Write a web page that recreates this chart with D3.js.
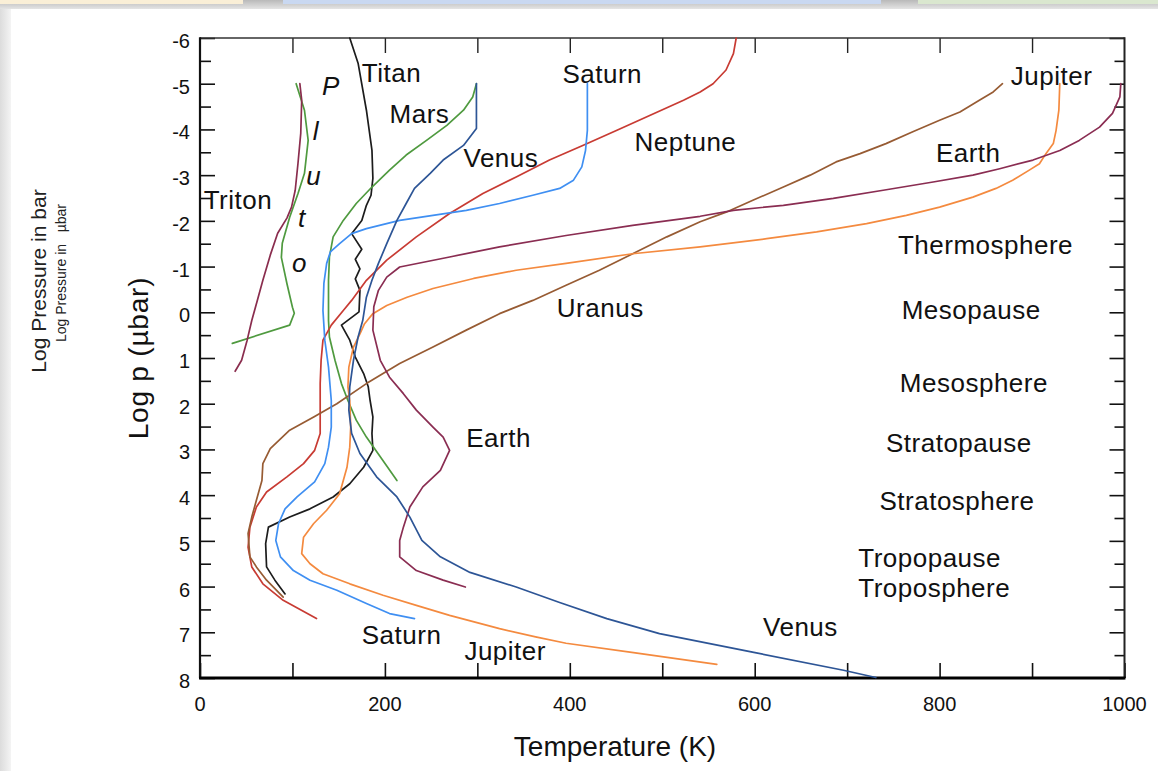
<!DOCTYPE html>
<html>
<head>
<meta charset="utf-8">
<script src="https://cdn.jsdelivr.net/npm/d3@7"></script>
<style>
  html, body { margin: 0; padding: 0; background: #fff; }
  svg { display: block; font-family: "Liberation Sans", Arial, Helvetica, sans-serif; }
</style>
</head>
<body>
<svg id="chart" width="1158" height="771"></svg>
<script>
// Temperature (K) vs log pressure (µbar) profiles: [T, log p]
const titan = [[162,-6.0],[171,-5.45],[180,-4.42],[186,-3.54],[187,-2.93],[185,-2.56],[180,-2.34],[175,-2.01],[164,-1.72],[175,-1.38],[168,-1.16],[173,-0.95],[168,-0.73],[173,-0.48],[172,-0.01],[153,0.28],[162,0.61],[168,0.98],[177,1.34],[182,1.63],[184,1.93],[187,2.29],[186,2.65],[187,3.02],[177,3.39],[162,3.75],[144,4.04],[119,4.30],[97,4.48],[74,4.70],[71,5.06],[72,5.57],[81,5.86],[92,6.16]];
const pluto = [[104,-5.0],[113,-4.42],[117,-3.76],[113,-3.04],[106,-2.60],[97,-2.08],[89,-1.51],[88,-1.20],[94,-0.63],[100,-0.11],[102,0.02],[97,0.28],[35,0.68]];
const triton = [[108,-5.0],[110,-4.64],[109,-3.92],[106,-3.26],[103,-2.67],[99,-2.30],[94,-2.06],[84,-1.73],[76,-1.25],[68,-0.70],[62,-0.26],[56,0.18],[51,0.61],[45,1.05],[38,1.29]];
const mars = [[299,-5.0],[295,-4.71],[285,-4.42],[267,-4.09],[245,-3.76],[223,-3.44],[205,-3.11],[186,-2.74],[169,-2.38],[155,-2.01],[144,-1.65],[140,-1.21],[139,-0.70],[139,-0.04],[139,0.18],[140,0.54],[146,1.05],[153,1.56],[160,1.93],[169,2.36],[180,2.73],[195,3.16],[213,3.68]];
const venus = [[299,-5.0],[299,-4.02],[285,-3.65],[263,-3.33],[249,-3.04],[232,-2.71],[223,-2.38],[213,-2.01],[202,-1.50],[193,-1.07],[186,-0.70],[180,-0.33],[176,0.18],[171,0.54],[166,1.05],[162,1.63],[161,2.14],[164,2.65],[173,3.09],[191,3.60],[213,4.04],[227,4.48],[240,4.99],[260,5.35],[292,5.69],[342,6.01],[389,6.35],[440,6.70],[497,7.03],[599,7.44],[696,7.83],[731,7.99]];
const saturn = [[419,-5.0],[419,-3.98],[417,-3.54],[413,-3.18],[404,-2.89],[389,-2.71],[360,-2.56],[324,-2.38],[288,-2.23],[252,-2.12],[216,-2.01],[180,-1.83],[164,-1.72],[151,-1.50],[141,-1.32],[137,-1.07],[134,-0.63],[133,-0.04],[135,0.61],[139,1.20],[142,1.93],[142,2.51],[139,2.95],[135,3.31],[124,3.71],[105,4.04],[92,4.30],[85,4.62],[82,4.99],[87,5.35],[101,5.65],[119,5.86],[148,6.08],[180,6.37],[205,6.59],[232,6.70]];
const jupiter = [[930,-5.0],[929,-4.42],[926,-3.98],[923,-3.69],[915,-3.47],[908,-3.25],[897,-3.11],[879,-2.89],[861,-2.71],[836,-2.52],[800,-2.30],[764,-2.12],[721,-1.94],[667,-1.76],[613,-1.61],[541,-1.43],[468,-1.28],[396,-1.07],[342,-0.92],[296,-0.74],[252,-0.52],[224,-0.33],[202,-0.15],[187,0.03],[178,0.25],[173,0.47],[166,0.76],[161,1.20],[160,1.63],[162,1.93],[163,2.51],[162,2.95],[159,3.39],[151,3.97],[137,4.33],[123,4.62],[112,4.92],[110,5.28],[119,5.50],[133,5.72],[162,5.94],[198,6.19],[234,6.41],[270,6.63],[324,6.92],[363,7.10],[396,7.24],[467,7.44],[559,7.70]];
const neptune = [[580,-6.0],[577,-5.66],[569,-5.30],[555,-5.0],[541,-4.82],[523,-4.64],[487,-4.31],[451,-3.98],[414,-3.65],[378,-3.33],[342,-2.96],[306,-2.60],[270,-2.16],[234,-1.65],[202,-1.14],[180,-0.70],[164,-0.26],[155,-0.04],[142,0.28],[133,0.61],[131,1.05],[130,1.56],[130,2.14],[130,2.65],[124,3.02],[112,3.31],[94,3.60],[72,3.93],[61,4.26],[54,4.70],[52,5.14],[56,5.57],[68,5.94],[90,6.30],[126,6.70]];
const uranus = [[868,-5.0],[858,-4.82],[843,-4.64],[822,-4.38],[800,-4.20],[771,-3.95],[742,-3.69],[714,-3.47],[688,-3.29],[660,-3.00],[631,-2.74],[598,-2.45],[569,-2.19],[541,-1.98],[505,-1.65],[468,-1.28],[432,-0.92],[396,-0.59],[360,-0.26],[324,0.03],[288,0.39],[252,0.76],[216,1.12],[180,1.56],[148,2.00],[123,2.29],[97,2.58],[76,2.98],[68,3.31],[67,3.68],[61,4.11],[56,4.48],[52,4.84],[54,5.35],[61,5.57],[72,5.86],[90,6.23]];
const earth = [[996,-5.0],[995,-4.71],[987,-4.35],[973,-4.05],[951,-3.76],[930,-3.54],[901,-3.33],[865,-3.14],[836,-3.00],[793,-2.85],[739,-2.67],[685,-2.49],[631,-2.34],[577,-2.23],[541,-2.10],[468,-1.90],[396,-1.68],[324,-1.43],[270,-1.21],[216,-0.99],[202,-0.77],[193,-0.48],[188,-0.12],[187,0.39],[195,1.05],[205,1.42],[220,1.78],[234,2.14],[252,2.51],[263,2.73],[270,3.02],[260,3.46],[241,3.82],[227,4.26],[220,4.70],[216,4.99],[216,5.35],[234,5.65],[263,5.86],[287,6.01]];

// Axis ticks
const xTicks = [0,100,200,300,400,500,600,700,800,900,1000];
const xTickLabels = ["0","200","400","600","800","1000"];
const yTickLabels = ["-6","-5","-4","-3","-2","-1","0","1","2","3","4","5","6","7","8"];

// Annotations: text with its anchor in data space [T, log p]
const planetLabels = [
  ["Titan",175,-5.03],["Mars",205,-4.13],["Venus",285,-3.18],["Saturn",392,-5.02],
  ["Neptune",470,-3.53],["Jupiter",877,-4.97],["Earth",796,-3.29],["Triton",4,-2.27],
  ["Uranus",386,0.10],["Earth",288,2.95],["Saturn",175,7.26],["Jupiter",286,7.61],["Venus",609,7.09]
];
const layerLabels = [
  ["Thermosphere",755,-1.28],["Mesopause",759,0.14],["Mesosphere",757,1.74],
  ["Stratopause",742,3.06],["Stratosphere",735,4.33],["Tropopause",712,5.57],["Troposphere",712,6.23]
];
const plutoLetters = [["P",132,-4.75],["l",122,-3.76],["u",115,-2.78],["t",106,-1.87],["o",99.5,-0.88]];

const series = [
  { data: titan,   color: "#1c1c1c" },
  { data: pluto,   color: "#4f9a3f" },
  { data: triton,  color: "#8a2d4e" },
  { data: mars,    color: "#4f9a3f" },
  { data: neptune, color: "#c83b33" },
  { data: uranus,  color: "#975b33" },
  { data: saturn,  color: "#3f8ff2" },
  { data: jupiter, color: "#f48a3f" },
  { data: earth,   color: "#8a2d52" },
  { data: venus,   color: "#2d5596" }
];

const svg = d3.select("#chart");

// page backdrop
const defs = svg.append("defs");
const gShade = defs.append("linearGradient").attr("id","leftShade").attr("x1",0).attr("x2",1).attr("y1",0).attr("y2",0);
gShade.append("stop").attr("offset",0).attr("stop-color","#dcdcdc");
gShade.append("stop").attr("offset",1).attr("stop-color","#f4f4f4");
const gTop = defs.append("linearGradient").attr("id","topShade").attr("x1",0).attr("x2",0).attr("y1",0).attr("y2",1);
gTop.append("stop").attr("offset",0).attr("stop-color","#b9b9b9");
gTop.append("stop").attr("offset",1).attr("stop-color","#e4e4e4");

svg.append("rect").attr("width",1158).attr("height",771).attr("fill","#ffffff");
svg.append("rect").attr("x",0).attr("y",0).attr("width",11).attr("height",771).attr("fill","url(#leftShade)");
svg.append("rect").attr("x",0).attr("y",0).attr("width",1158).attr("height",9).attr("fill","url(#topShade)");
svg.append("rect").attr("x",0).attr("y",0).attr("width",243).attr("height",4).attr("fill","#faefd7");
svg.append("rect").attr("x",283).attr("y",0).attr("width",598).attr("height",4).attr("fill","#c9d8f1");
svg.append("rect").attr("x",918).attr("y",0).attr("width",240).attr("height",4).attr("fill","#dae7cf");

const x = d3.scaleLinear().domain([0,1000]).range([200,1124.5]);
const y = d3.scaleLinear().domain([-6,8]).range([38,678]);

// ticks on all four sides, pointing inward
svg.append("g").attr("transform",`translate(0,${y(8)})`)
  .call(d3.axisBottom(x).tickValues(xTicks).tickSize(-15).tickFormat(""))
  .call(g => g.select(".domain").remove())
  .selectAll("line").attr("stroke","#111").attr("stroke-width",1.6);
svg.append("g").attr("transform",`translate(0,${y(-6)})`)
  .call(d3.axisTop(x).tickValues(xTicks.slice(1,-1)).tickSize(-15).tickFormat(""))
  .call(g => g.select(".domain").remove())
  .selectAll("line").attr("stroke","#222").attr("stroke-width",1.4);

const yHalf = d3.range(-6,8.01,0.5);
const isMajor = v => Math.abs(v - Math.round(v)) < 1e-6;
svg.append("g").attr("transform",`translate(${x(0)},0)`)
  .call(d3.axisLeft(y).tickValues(yHalf).tickSizeInner(0).tickSizeOuter(0).tickFormat(""))
  .call(g => g.select(".domain").remove())
  .selectAll(".tick line").attr("x2", d => isMajor(d) ? 15 : 11).attr("stroke","#111").attr("stroke-width",1.6);
svg.append("g").attr("transform",`translate(${x(1000)},0)`)
  .call(d3.axisRight(y).tickValues(yHalf).tickSizeInner(0).tickSizeOuter(0).tickFormat(""))
  .call(g => g.select(".domain").remove())
  .selectAll(".tick line").attr("x2", d => isMajor(d) ? -15 : -10).attr("stroke","#111").attr("stroke-width",1.6);

// frame
svg.append("line").attr("x1",x(0)).attr("x2",x(1000)).attr("y1",y(-6)).attr("y2",y(-6)).attr("stroke","#333").attr("stroke-width",1.5);
svg.append("line").attr("x1",x(0)).attr("x2",x(0)).attr("y1",y(-6)-0.75).attr("y2",y(8)).attr("stroke","#111").attr("stroke-width",2.2);
svg.append("line").attr("x1",x(1000)).attr("x2",x(1000)).attr("y1",y(-6)-0.75).attr("y2",y(8)).attr("stroke","#222").attr("stroke-width",2);
svg.append("line").attr("x1",x(0)-1).attr("x2",x(1000)+1).attr("y1",y(8)).attr("y2",y(8)).attr("stroke","#000").attr("stroke-width",3);

// tick labels
svg.append("g").selectAll("text").data(xTickLabels).join("text")
  .attr("x", d => x(+d)).attr("y", y(8) + 33)
  .attr("text-anchor","middle").attr("font-size",20).attr("fill","#111").text(d => d);
svg.append("g").selectAll("text").data(yTickLabels).join("text")
  .attr("x", x(0) - 10).attr("y", d => y(+d) + 10)
  .attr("text-anchor","end").attr("font-size",20).attr("fill","#111").text(d => d);

// axis titles
svg.append("text").attr("x",615).attr("y",756).attr("text-anchor","middle")
  .attr("font-size",28).attr("fill","#111").text("Temperature (K)");
svg.append("text").attr("transform","translate(148,358) rotate(-90)").attr("text-anchor","middle")
  .attr("font-size",28).attr("letter-spacing",0.8).attr("fill","#111").text("Log p (µbar)");
svg.append("text").attr("transform","translate(46,281) rotate(-90)").attr("text-anchor","middle")
  .attr("font-size",21).attr("fill","#222").text("Log Pressure in bar");
svg.append("text").attr("transform","translate(66,273) rotate(-90)").attr("text-anchor","middle")
  .attr("font-size",14).attr("fill","#222").attr("xml:space","preserve").text("Log Pressure in   µbar");

// profiles
const line = d3.line().x(d => x(d[0])).y(d => y(d[1])).curve(d3.curveLinear);
svg.append("g").selectAll("path").data(series).join("path")
  .attr("d", d => line(d.data))
  .attr("fill","none").attr("stroke", d => d.color)
  .attr("stroke-width",1.7).attr("stroke-linejoin","round").attr("stroke-linecap","round");

// annotations
const labelG = svg.append("g").attr("fill","#111").attr("font-size",26).attr("letter-spacing",0.5);
labelG.selectAll("text.planet").data(planetLabels).join("text").attr("class","planet")
  .attr("x", d => x(d[1])).attr("y", d => y(d[2])).text(d => d[0]);
labelG.selectAll("text.layer").data(layerLabels).join("text").attr("class","layer")
  .attr("x", d => x(d[1])).attr("y", d => y(d[2])).text(d => d[0]);
labelG.selectAll("text.pluto").data(plutoLetters).join("text").attr("class","pluto")
  .attr("x", d => x(d[1])).attr("y", d => y(d[2])).attr("font-style","italic").text(d => d[0]);
</script>
</body>
</html>
